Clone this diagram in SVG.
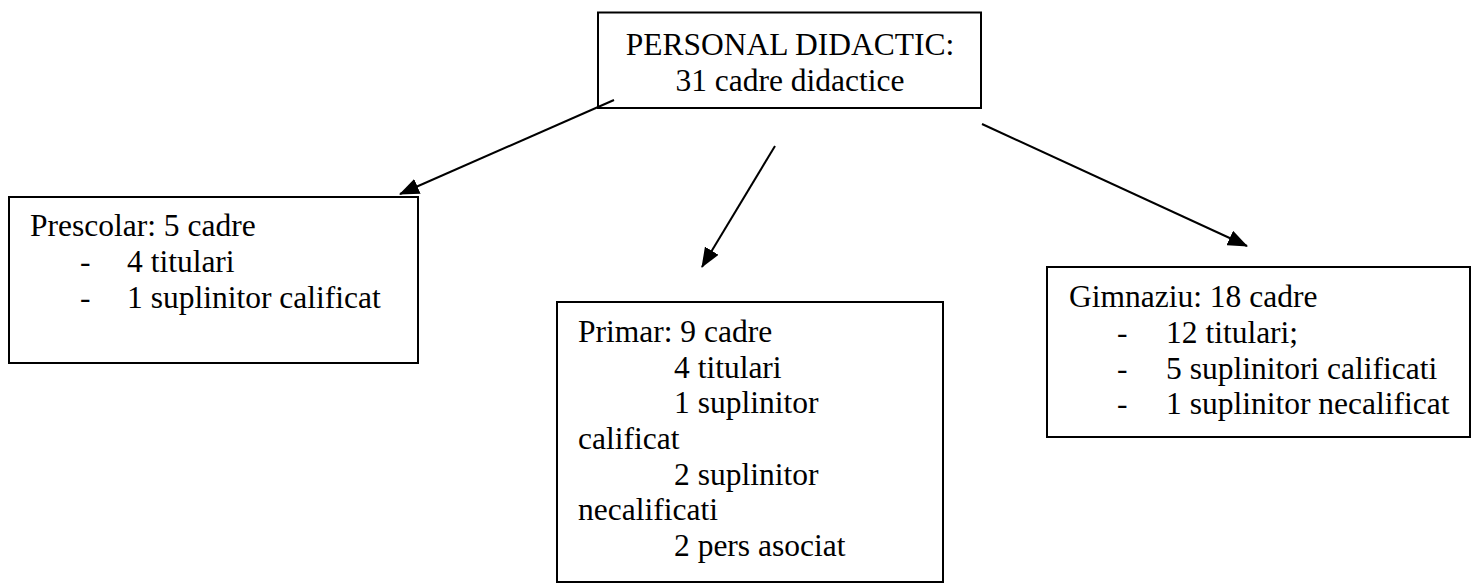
<svg xmlns="http://www.w3.org/2000/svg" width="1471" height="584" viewBox="0 0 1471 584">
<style>
.box{fill:#fff;stroke:#000;stroke-width:2}
.t{font-family:"Liberation Serif","Times New Roman",serif;font-size:31.5px;fill:#000}
.c{text-anchor:middle}
.conn{stroke:#000;stroke-width:2;fill:none;marker-end:url(#ah)}
</style>
<defs>
<marker id="ah" markerUnits="userSpaceOnUse" markerWidth="20" markerHeight="16" refX="19" refY="8" orient="auto">
<path d="M0,0 L20,8 L0,16 z" fill="#000"/>
</marker>
</defs>
<rect width="1471" height="584" fill="#fff"/>
<g id="personal">
<rect class="box" x="598" y="12.5" width="383" height="95.5"/>
<text class="t c" x="790" y="55">PERSONAL DIDACTIC:</text>
<text class="t c" x="790" y="91">31 cadre didactice</text>
</g>
<g id="prescolar">
<rect class="box" x="9" y="197" width="409" height="166"/>
<text class="t" x="30" y="236">Prescolar: 5 cadre</text>
<text class="t" x="80" y="272">-</text>
<text class="t" x="127" y="272">4 titulari</text>
<text class="t" x="80" y="307.5">-</text>
<text class="t" x="127" y="307.5">1 suplinitor calificat</text>
</g>
<g id="primar">
<rect class="box" x="557" y="302" width="386" height="280"/>
<text class="t" x="578" y="342">Primar: 9 cadre</text>
<text class="t" x="674" y="377.5">4 titulari</text>
<text class="t" x="674" y="413">1 suplinitor</text>
<text class="t" x="578" y="449">calificat</text>
<text class="t" x="674" y="484.5">2 suplinitor</text>
<text class="t" x="578" y="520">necalificati</text>
<text class="t" x="674" y="556">2 pers asociat</text>
</g>
<g id="gimnaziu">
<rect class="box" x="1047" y="267" width="423" height="170"/>
<text class="t" x="1069" y="307">Gimnaziu: 18 cadre</text>
<text class="t" x="1117" y="343">-</text>
<text class="t" x="1166" y="343">12 titulari;</text>
<text class="t" x="1117" y="378.5">-</text>
<text class="t" x="1166" y="378.5">5 suplinitori calificati</text>
<text class="t" x="1117" y="414">-</text>
<text class="t" x="1166" y="414">1 suplinitor necalificat</text>
</g>
<g id="connectors">
<line class="conn" x1="614" y1="100" x2="400" y2="194"/>
<line class="conn" x1="775" y1="146" x2="702" y2="267"/>
<line class="conn" x1="982" y1="124" x2="1247" y2="246"/>
</g>
</svg>
